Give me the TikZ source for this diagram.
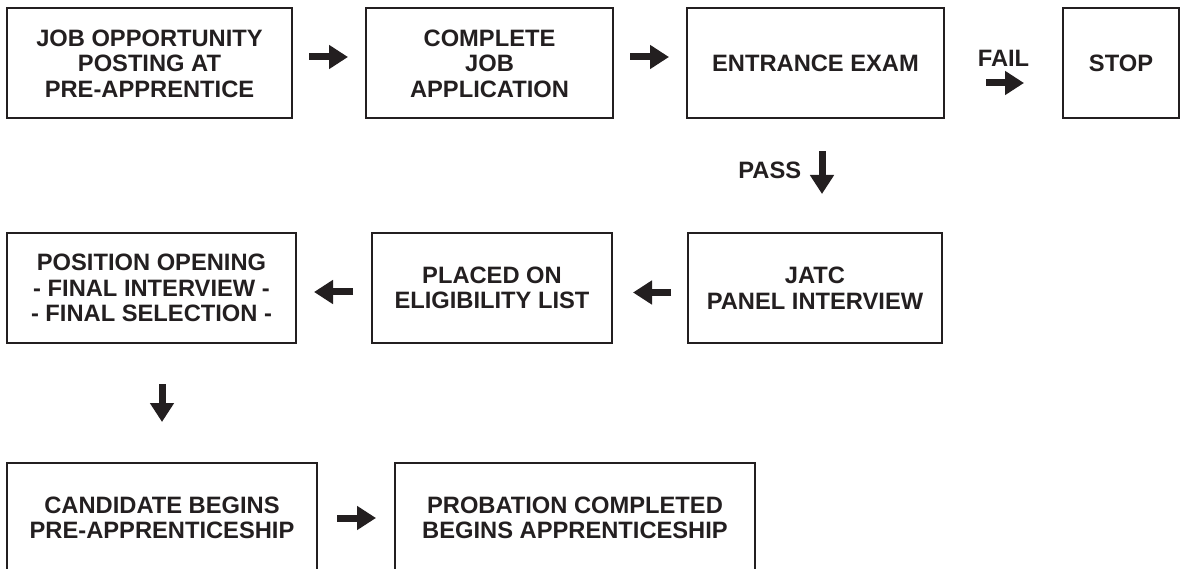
\documentclass[tikz,border=0pt]{standalone}
\usepackage{fontspec}
\setmainfont{Liberation Sans}
\usetikzlibrary{arrows.meta,positioning}
\definecolor{ink}{RGB}{35,31,32}

\begin{document}
\begin{tikzpicture}[x=1pt, y=-1pt,
	box/.style={draw=ink, line width=2pt, minimum height=110pt, align=center,
		text=ink, font=\bfseries\fontsize{23.7}{25.5}\selectfont, inner sep=0pt},
	barrow/.style={draw=ink, line width=7pt, -{Triangle[length=19pt,width=23pt]},
		shorten <=16pt, shorten >=17pt},
	lbl/.style={text=ink, font=\bfseries\fontsize{23.7}{25.5}\selectfont}]
\useasboundingbox (0,0) rectangle (1186,569);
% First row
\node [box, minimum width=285pt] (job) at (149.5,63.5)
	{JOB OPPORTUNITY\\ POSTING AT\\ PRE-APPRENTICE};
\node [box, minimum width=247pt] (app) at (489.5,63.5)
	{COMPLETE\\ JOB\\ APPLICATION};
\node [box, minimum width=257pt] (exam) at (815.5,63.5) {ENTRANCE EXAM};
\node [box, minimum width=116pt] (stop) at (1121,63.5) {STOP};
% Second row
\node [box, minimum width=289pt] (pos) at (151.5,288)
	{POSITION OPENING\\ - FINAL INTERVIEW -\\ - FINAL SELECTION -};
\node [box, minimum width=240pt] (placed) at (492,288)
	{PLACED ON\\ ELIGIBILITY LIST};
\node [box, minimum width=254pt] (jatc) at (815,288)
	{JATC\\ PANEL INTERVIEW};
% Third row (cut by the page)
\node [box, minimum width=310pt] (cand) at (162,518)
	{CANDIDATE BEGINS\\ PRE-APPRENTICESHIP};
\node [box, minimum width=360pt] (prob) at (575,518)
	{PROBATION COMPLETED\\ BEGINS APPRENTICESHIP};
% Arrows of the first row
\draw [barrow] ([yshift=6.5pt]job.east) -- ([yshift=6.5pt]app.west);
\draw [barrow] ([yshift=6.5pt]app.east) -- ([yshift=6.5pt]exam.west);
\draw [barrow, shorten <=41pt, shorten >=38pt]
	([yshift=-19.5pt]exam.east) -- ([yshift=-19.5pt]stop.west)
	node [lbl, midway, above=10pt] {FAIL};
% Exam passed
\draw [barrow, shorten <=32pt, shorten >=38pt]
	([xshift=6.5pt]exam.south) -- ([xshift=7pt]jatc.north)
	node [lbl, pos=0.45, left=14pt] {PASS};
% Arrows of the second row
\draw [barrow, shorten <=16pt, shorten >=20pt]
	([yshift=-4.5pt]jatc.west) -- ([yshift=-4.5pt]placed.east);
\draw [barrow, shorten <=18pt, shorten >=17pt]
	([yshift=-4pt]placed.west) -- ([yshift=-4pt]pos.east);
% Down to the third row
\draw [barrow, shorten <=40pt, shorten >=40pt]
	(cand.north |- pos.south) -- (cand.north);
\draw [barrow, shorten <=19pt, shorten >=18pt] (cand.east) -- (prob.west);
\end{tikzpicture}
\end{document}
